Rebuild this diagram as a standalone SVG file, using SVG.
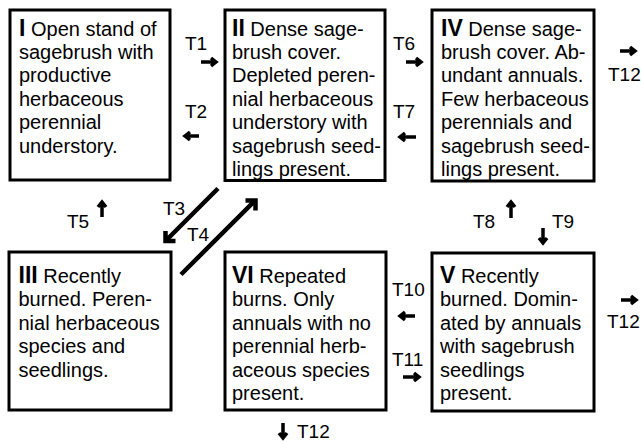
<svg xmlns="http://www.w3.org/2000/svg" width="641" height="441" viewBox="0 0 641 441">
<style>
.box{fill:#fff;stroke:#000;stroke-width:3}
.t{font-family:"Liberation Sans",Arial,Helvetica,sans-serif;font-size:20px;fill:#000}
.n{font-weight:bold;font-size:23px}
.lb{font-family:"Liberation Sans",Arial,Helvetica,sans-serif;font-size:19px;fill:#000}
.arr{fill:none;stroke:#000;stroke-width:3.5;stroke-linejoin:miter;stroke-linecap:butt}
.diag{fill:none;stroke:#000;stroke-width:4.5;stroke-linejoin:miter;stroke-linecap:butt}
</style>
<rect width="641" height="441" fill="#fff"/>
<g id="nodeI">
<rect class="box" x="10" y="10" width="160" height="170"/>
<text class="t" x="19" y="35.5"><tspan class="n">I</tspan> Open stand of<tspan x="19" dy="23.4">sagebrush with</tspan><tspan x="19" dy="23.4">productive</tspan><tspan x="19" dy="23.4">herbaceous</tspan><tspan x="19" dy="23.4">perennial</tspan><tspan x="19" dy="23.4">understory.</tspan></text>
</g>
<g id="nodeII">
<rect class="box" x="225" y="10" width="160" height="170.5"/>
<text class="t" x="232" y="35.5"><tspan class="n">II</tspan> Dense sage-<tspan x="232" dy="23.4">brush cover.</tspan><tspan x="232" dy="23.4">Depleted peren-</tspan><tspan x="232" dy="23.4">nial herbaceous</tspan><tspan x="232" dy="23.4">understory with</tspan><tspan x="232" dy="23.4">sagebrush seed-</tspan><tspan x="232" dy="23.4">lings present.</tspan></text>
</g>
<g id="nodeIV">
<rect class="box" x="432" y="10" width="162" height="171"/>
<text class="t" x="441" y="35.5"><tspan class="n">IV</tspan> Dense sage-<tspan x="441" dy="23.4">brush cover. Ab-</tspan><tspan x="441" dy="23.4">undant annuals.</tspan><tspan x="441" dy="23.4">Few herbaceous</tspan><tspan x="441" dy="23.4">perennials and</tspan><tspan x="441" dy="23.4">sagebrush seed-</tspan><tspan x="441" dy="23.4">lings present.</tspan></text>
</g>
<g id="nodeIII">
<rect class="box" x="9" y="252" width="162" height="158"/>
<text class="t" x="18.5" y="283"><tspan class="n">III</tspan> Recently<tspan x="18.5" dy="23.4">burned. Peren-</tspan><tspan x="18.5" dy="23.4">nial herbaceous</tspan><tspan x="18.5" dy="23.4">species and</tspan><tspan x="18.5" dy="23.4">seedlings.</tspan></text>
</g>
<g id="nodeVI">
<rect class="box" x="225" y="252" width="161" height="158"/>
<text class="t" x="232" y="283"><tspan class="n">VI</tspan> Repeated<tspan x="232" dy="23.4">burns. Only</tspan><tspan x="232" dy="23.4">annuals with no</tspan><tspan x="232" dy="23.4">perennial herb-</tspan><tspan x="232" dy="23.4">aceous species</tspan><tspan x="232" dy="23.4">present.</tspan></text>
</g>
<g id="nodeV">
<rect class="box" x="432" y="253" width="162" height="158"/>
<text class="t" x="440" y="283"><tspan class="n">V</tspan> Recently<tspan x="440" dy="23.4">burned. Domin-</tspan><tspan x="440" dy="23.4">ated by annuals</tspan><tspan x="440" dy="23.4">with sagebrush</tspan><tspan x="440" dy="23.4">seedlings</tspan><tspan x="440" dy="23.4">present.</tspan></text>
</g>
<g id="connectors">
<path class="arr" d="M201 62 H216 M211 58 L216 62 L211 66"/>
<text class="lb" x="185" y="50">T1</text>
<path class="arr" d="M199 136 H185 M190 132 L185 136 L190 140"/>
<text class="lb" x="185" y="118">T2</text>
<path class="arr" d="M406 62 H421 M416 58 L421 62 L416 66"/>
<text class="lb" x="393" y="50">T6</text>
<path class="arr" d="M416 137 H400 M405 133 L400 137 L405 141"/>
<text class="lb" x="393" y="118">T7</text>
<path class="arr" d="M620 51 H635 M630 47 L635 51 L630 55"/>
<text class="lb" x="608" y="81">T12</text>
<path class="diag" d="M218 188.5 L166 240.5 M165.5 231 L165.5 241 L175.5 241"/>
<text class="lb" x="163" y="215">T3</text>
<path class="diag" d="M181 274.5 L254.5 201 M245.5 200.5 L255.5 200.5 L255.5 210.5"/>
<text class="lb" x="187" y="241">T4</text>
<path class="arr" d="M102 217 V202 M98 207 L102 202 L106 207"/>
<text class="lb" x="67" y="228">T5</text>
<path class="arr" d="M511 218 V202 M507 207 L511 202 L515 207"/>
<text class="lb" x="473" y="228">T8</text>
<path class="arr" d="M543 228 V243 M539 238 L543 243 L547 238"/>
<text class="lb" x="552" y="228">T9</text>
<path class="arr" d="M415 316 H400 M405 312 L400 316 L405 320"/>
<text class="lb" x="392" y="296">T10</text>
<path class="arr" d="M403 377 H419 M414 373 L419 377 L414 381"/>
<text class="lb" x="392" y="366">T11</text>
<path class="arr" d="M621 300 H636 M631 296 L636 300 L631 304"/>
<text class="lb" x="607" y="328">T12</text>
<path class="arr" d="M283 423 V438 M279 433 L283 438 L287 433"/>
<text class="lb" x="297" y="438">T12</text>
</g>
</svg>
